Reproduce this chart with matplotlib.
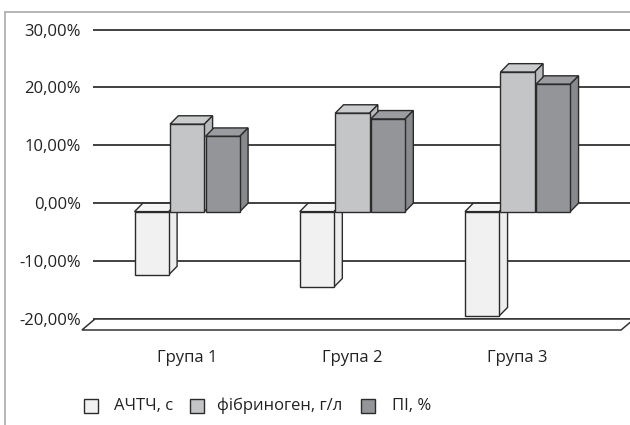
import matplotlib.pyplot as plt
from matplotlib.patches import Polygon, Rectangle
from matplotlib.lines import Line2D

plt.rcParams["font.family"] = ["Open Sans", "DejaVu Sans"]

# ---- data ----
groups = ["Група 1", "Група 2", "Група 3"]
series_names = ["АЧТЧ, с", "фібриноген, г/л", "ПІ, %"]
achtch = [-10.9, -13.0, -18.0]
fibrinogen = [15.1, 17.0, 24.1]
pi_vals = [13.0, 16.0, 22.0]
yticks = [-20, -10, 0, 10, 20, 30]
ytick_labels = ["-20,00%", "-10,00%", "0,00%", "10,00%", "20,00%", "30,00%"]

front_colors = ["#f1f1f1", "#c4c5c7", "#939598"]
top_colors = ["#f5f5f5", "#cbcccd", "#9b9c9f"]
side_colors = ["#ededed", "#b9babc", "#88898c"]
edge = "#2b2b2b"

# ---- layout (3d-look parameters) ----
xmin, xmax = -0.57, 2.68
step = 0.2148      # distance between bars inside a group
w = 0.2076         # bar width
dx, dy = 0.05, 1.45            # bar depth
fdx, fdy = 0.079, 1.9          # floor depth

fig = plt.figure(figsize=(6.3, 4.25), dpi=100)
ax = fig.add_axes([93 / 630, 106 / 425, 537 / 630, 289.5 / 425])
ax.set_xlim(xmin, xmax)
ax.set_ylim(-20, 30)

# gridlines on the back wall
ax.hlines(yticks, xmin, xmax, color="#333333", lw=1.3, zorder=1, clip_on=False)

# floor
floor = Polygon([(xmin + 0.012, -20), (2.705, -20), (2.705 - fdx, -20 - fdy),
                 (xmin + 0.012 - fdx, -20 - fdy)],
                closed=True, facecolor="white", edgecolor="#333333", lw=1.1,
                zorder=2, clip_on=False)
ax.add_patch(floor)

# bars
all_series = [achtch, fibrinogen, pi_vals]
for j, vals in enumerate(all_series):
    for i, v in enumerate(vals):
        xc = i + (j - 1) * step
        xl, xr = xc - w / 2, xc + w / 2
        b, t = -dy, v - dy
        lo, hi = min(b, t), max(b, t)
        z = 3 + j
        ax.bar(xc, v, w, bottom=-dy, color=front_colors[j], edgecolor=edge,
               lw=1.0, zorder=z + 0.2)
        ax.add_patch(Polygon([(xl, hi), (xl + dx, hi + dy), (xr + dx, hi + dy), (xr, hi)],
                             closed=True, facecolor=top_colors[j], edgecolor=edge,
                             lw=1.0, zorder=z))
        ax.add_patch(Polygon([(xr, lo), (xr + dx, lo + dy), (xr + dx, hi + dy), (xr, hi)],
                             closed=True, facecolor=side_colors[j], edgecolor=edge,
                             lw=1.0, zorder=z))

ax.set_yticks(yticks, ytick_labels)
ax.set_xticks(range(len(groups)), groups)
ax.tick_params(axis="y", length=0, pad=8.6, labelsize=12, labelcolor="#222222")
ax.tick_params(axis="x", length=0, pad=22, labelsize=12, labelcolor="#222222")
for s in ax.spines.values():
    s.set_visible(False)

# chart frame (left and top)
fig.add_artist(Line2D([4.7 / 630, 4.7 / 630], [0, (425 - 11.7) / 425],
                      transform=fig.transFigure, color="#b0b0b0", lw=1.3))
fig.add_artist(Line2D([4.7 / 630, 1], [(425 - 11.7) / 425, (425 - 11.7) / 425],
                      transform=fig.transFigure, color="#b0b0b0", lw=1.3))

# legend
box_x = [84.3, 190, 361]
text_x = [114, 216.7, 392]
ly = 405.5
for k, name in enumerate(series_names):
    fig.add_artist(Rectangle((box_x[k] / 630, (425 - ly - 7) / 425), 14 / 630, 14 / 425,
                             transform=fig.transFigure, facecolor=front_colors[k],
                             edgecolor=edge, lw=1.0))
    fig.text(text_x[k] / 630, (425 - ly) / 425, name, fontsize=12, color="#222222",
             ha="left", va="center")

fig.savefig("out.png", dpi=100)
